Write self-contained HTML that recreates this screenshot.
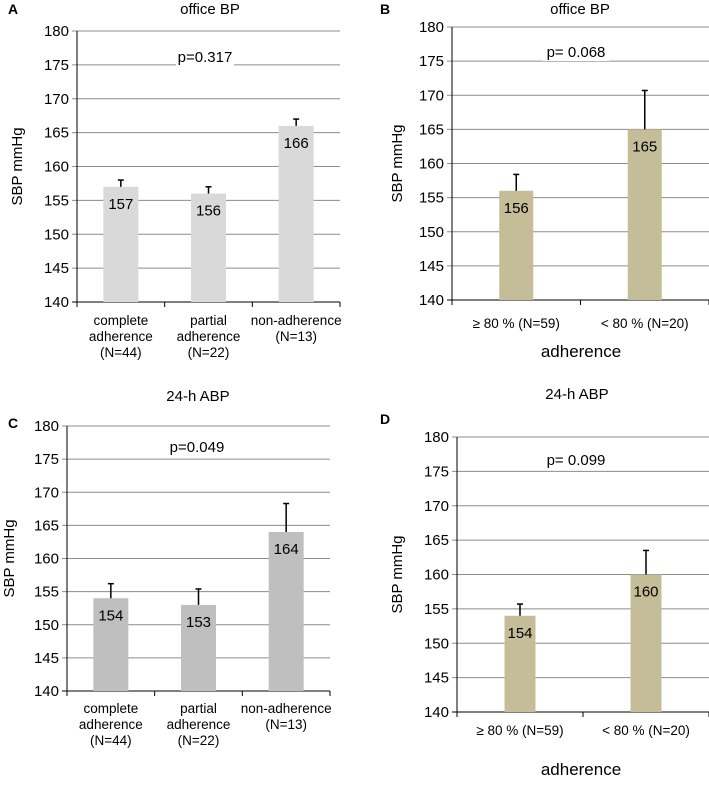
<!DOCTYPE html>
<html><head><meta charset="utf-8"><style>
body{margin:0;background:#fff;width:709px;height:780px;overflow:hidden}
svg{font-family:"Liberation Sans",sans-serif}
</style></head><body>
<svg id="s" width="709" height="780" xmlns="http://www.w3.org/2000/svg"></svg>
<script>
const catsA=[["complete","adherence","(N=44)"],["partial","adherence","(N=22)"],["non-adherence","(N=13)"]];
const catsB=[["≥ 80 % (N=59)"],["< 80 % (N=20)"]];
const valsA=[157,156,166];
const errA=[1,1,1];
const valsB=[156,165];
const errB=[2.4,5.7];
const valsC=[154,153,164];
const errC=[2.2,2.4,4.3];
const valsD=[154,160];
const errD=[1.7,3.5];
const yTicks=[140,145,150,155,160,165,170,175,180];
const panels=[
 {id:'a',letter:'A',lx:8,ly:14,title:'office BP',tx:210,ty:14,L:77,R:340,T:31,B:302,cats:catsA,vals:valsA,err:errA,color:'#d9d9d9',p:'p=0.317',px:205,py:62,bw:35,ylx:22,labY:325,xt:null},
 {id:'b',letter:'B',lx:380,ly:14,title:'office BP',tx:580,ty:14,L:452,R:709,T:27,B:300,cats:catsB,vals:valsB,err:errB,color:'#c4bd97',p:'p= 0.068',px:576,py:57,bw:34,ylx:402,labY:328,xt:{t:'adherence',x:581,y:357}},
 {id:'c',letter:'C',lx:8,ly:428,title:'24-h ABP',tx:198,ty:401,L:67,R:330,T:426,B:691,cats:catsA,vals:valsC,err:errC,color:'#bfbfbf',p:'p=0.049',px:197,py:452,bw:35,ylx:14,labY:713,xt:null},
 {id:'d',letter:'D',lx:380,ly:424,title:'24-h ABP',tx:577,ty:399,L:457,R:709,T:437,B:712,cats:catsB,vals:valsD,err:errD,color:'#c4bd97',p:'p= 0.099',px:576,py:465,bw:31,ylx:402,labY:735,xt:{t:'adherence',x:581,y:775}}
];
const NS='http://www.w3.org/2000/svg';
const svg=document.getElementById('s');
function mk(tag,attrs,parent,txt){const e=document.createElementNS(NS,tag);for(const k in attrs)e.setAttribute(k,attrs[k]);if(txt!==undefined)e.textContent=txt;parent.appendChild(e);return e;}
panels.forEach(P=>{
 const g=mk('g',{},svg);
 
 
 const y=v=>P.B+(v-140)/(40)*(P.T-P.B);
 const n=P.vals.length, cw=(P.R-P.L)/n;
 const x=i=>P.L+cw*(i+0.5);
 const lt=mk('text',{x:P.lx,y:P.ly,'font-size':14,'font-weight':'bold'},g,P.letter);
 
 
 const tt=mk('text',{x:P.tx,y:P.ty,'font-size':15,'text-anchor':'middle'},g,P.title);
 
 
 yTicks.forEach(t=>{
  const gl=mk('line',{x1:P.L-5,x2:P.R,y1:y(t),y2:y(t),stroke:t===140?'#000':'#8c8c8c','stroke-width':1},g);
  
  
  const tl=mk('text',{x:P.L-8,y:y(t)+5,'font-size':15,'text-anchor':'end'},g,t);
  
  
 });
 mk('line',{x1:P.L,x2:P.L,y1:P.T,y2:P.B,stroke:'#000'},g);
 for(let i=0;i<=n;i++)mk('line',{x1:P.L+cw*i,x2:P.L+cw*i,y1:P.B,y2:P.B+5,stroke:'#000'},g);
 const pw=P.p.length*8.3;
 mk('rect',{x:P.px-pw/2,y:P.py-13,width:pw,height:17,fill:'#fff'},g);
 const pt=mk('text',{x:P.px,y:P.py,'font-size':15,'text-anchor':'middle'},g,P.p);
 
 
 P.vals.forEach((v,i)=>{
  const b=mk('rect',{x:x(i)-P.bw/2,y:y(v),width:P.bw,height:P.B-y(v),fill:P.color},g);
  
  
  const e=P.err[i];
  mk('line',{x1:x(i),x2:x(i),y1:y(v),y2:y(v+e),stroke:'#000','stroke-width':1.5},g);
  const eb=mk('line',{x1:x(i)-3,x2:x(i)+3,y1:y(v+e),y2:y(v+e),stroke:'#000','stroke-width':1.5},g);
  
  
  const vl=mk('text',{x:x(i),y:y(v)+22,'font-size':15,'text-anchor':'middle'},g,v);
  
  
  P.cats[i].forEach((s,j)=>{
   const cl=mk('text',{x:x(i),y:P.labY+j*16,'font-size':13.5,'text-anchor':'middle'},g,s);
   
   
  });
 });
 const cy=(P.T+P.B)/2;
 const yl=mk('text',{x:P.ylx,y:cy,'font-size':15,'text-anchor':'middle',transform:`rotate(-90 ${P.ylx} ${cy})`},g,'SBP mmHg');
 
 
 if(P.xt){
  const xl=mk('text',{x:P.xt.x,y:P.xt.y,'font-size':17,'text-anchor':'middle'},g,P.xt.t);
  
  
 }
});
</script>
</body></html>
